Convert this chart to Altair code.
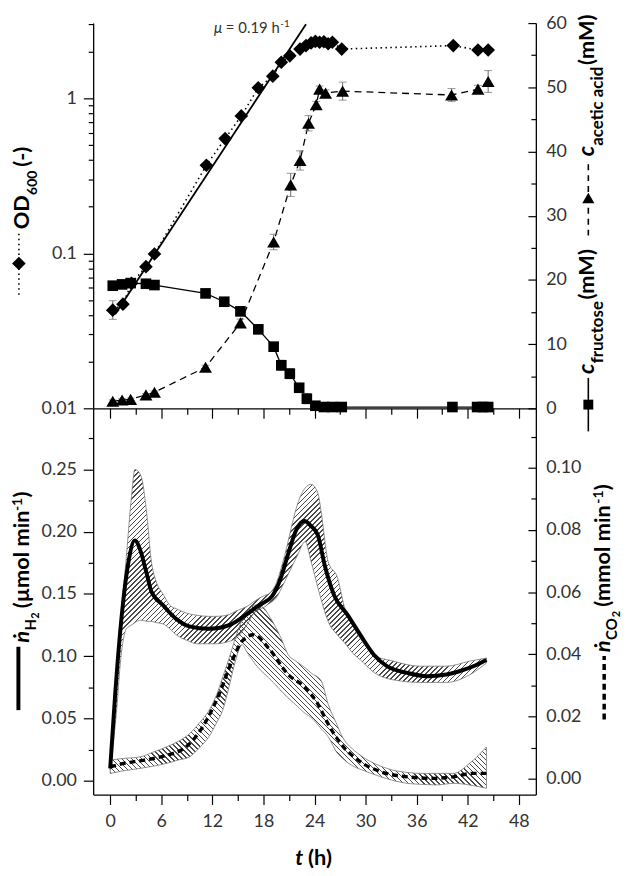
import altair as alt
import pandas as pd

# ---------------- data ----------------
od_t = [0.3, 1.5, 2.5, 4.2, 5.2, 11.3, 13.5, 15.4, 17.4, 19.1, 20.1, 21.1, 22.3, 23.0,
        23.6, 24.1, 24.6, 25.1, 25.6, 26.1, 27.2, 40.3, 43.2, 44.4]
od_v = [0.043, 0.047, 0.064, 0.082, 0.099, 0.37, 0.55, 0.77, 1.17, 1.39, 1.71, 1.88, 2.08, 2.19,
        2.28, 2.33, 2.30, 2.32, 2.25, 2.30, 2.08, 2.19, 2.05, 2.05]
od_err_t = [0.3]
od_err_lo = [0.0375]
od_err_hi = [0.0495]
fit_t = [0.58, 23.0]
fit_v = [0.0405, 3.01]

fru_t = [0.3, 1.4, 2.4, 4.2, 5.2, 11.2, 13.4, 15.3, 17.4, 19.2, 20.1, 21.1, 22.2, 23.1,
         24.1, 25.1, 26.1, 27.2, 40.2, 43.1, 43.8, 44.4]
fru_c = [19.1, 19.3, 19.5, 19.4, 19.2, 17.9, 16.6, 15.1, 12.3, 9.6, 6.7, 5.4, 3.2, 1.5,
         0.4, 0.2, 0.2, 0.2, 0.2, 0.2, 0.2, 0.2]
fru_sd = [0.3, 0.2, 0.2, 0.2, 0.2, 0.3, 0.3, 0.4, 0.5, 0.5, 0.8, 0.8, 0.6, 0.8,
          0.2, 0.1, 0.1, 0.1, 0.1, 0.1, 0.1, 0.1]
ace_t = [0.3, 1.4, 2.4, 4.2, 5.2, 11.2, 15.3, 19.2, 21.2, 22.3, 23.3, 24.2, 24.6, 25.3,
         27.3, 40.1, 43.2, 44.4]
ace_c = [1.1, 1.3, 1.4, 2.1, 2.5, 6.4, 13.3, 25.9, 34.8, 38.6, 44.4, 47.3, 49.7, 49.1,
         49.4, 48.8, 49.7, 50.9]
ace_sd = [0.2, 0.2, 0.2, 0.2, 0.2, 0.3, 0.6, 1.2, 1.8, 1.5, 1.2, 0.5, 0.5, 0.5,
          1.4, 1.0, 0.6, 1.7]

h2_t = [0, 0.58, 1.36, 2.13, 2.9, 3.49, 4.26, 4.84, 6.2, 7.75, 9.3, 11.6, 14.0, 15.9, 17.5,
        19.0, 20.0, 20.9, 21.9, 22.8, 23.6, 24.4, 25.2, 26.3, 27.9, 29.4, 31.0, 32.5, 34.9,
        37.2, 39.5, 41.5, 43.0, 44.2]
h2_v = [0.010, 0.069, 0.133, 0.175, 0.193, 0.186, 0.167, 0.152, 0.141, 0.130, 0.124, 0.122,
        0.125, 0.133, 0.141, 0.148, 0.162, 0.182, 0.202, 0.2085, 0.2045, 0.197, 0.173, 0.149,
        0.133, 0.117, 0.101, 0.092, 0.0866, 0.084, 0.0853, 0.089, 0.093, 0.097]
h2b_t = [0, 0.8, 1.2, 1.9, 2.5, 2.9, 3.6, 4.3, 4.8, 5.4, 6.2, 7.0, 7.8, 9.3, 10.1, 11.6, 12.4,
         14.0, 14.7, 16.3, 16.7, 18.2, 18.6, 19.4, 20.5, 21.7, 22.0, 22.9, 23.6, 24.4, 24.8,
         25.6, 26.7, 27.5, 28.7, 29.4, 31.0, 33.3, 36.4, 39.5, 42.2, 44.2]
h2b_hi = [0.012, 0.085, 0.125, 0.180, 0.228, 0.250, 0.245, 0.214, 0.178, 0.160, 0.150, 0.141,
          0.138, 0.134, 0.133, 0.132, 0.132, 0.1335, 0.136, 0.141, 0.143, 0.149, 0.150, 0.157,
          0.181, 0.215, 0.222, 0.235, 0.238, 0.231, 0.215, 0.176, 0.163, 0.140, 0.122, 0.114,
          0.101, 0.096, 0.092, 0.092, 0.096, 0.0986]
h2b_lo = [0.0085, 0.060, 0.095, 0.122, 0.125, 0.127, 0.129, 0.128, 0.128, 0.127, 0.126, 0.122,
          0.117, 0.112, 0.110, 0.110, 0.110, 0.112, 0.114, 0.128, 0.133, 0.140, 0.142, 0.146,
          0.160, 0.177, 0.181, 0.192, 0.176, 0.155, 0.145, 0.128, 0.117, 0.111, 0.101, 0.097,
          0.087, 0.081, 0.079, 0.079, 0.085, 0.0946]

co2_t = [0, 1.55, 3.87, 6.6, 8.9, 10.85, 12.8, 14.3, 15.5, 16.85, 18.6, 20.9, 22.9, 24.4,
         25.6, 27.1, 29.1, 31.8, 34.9, 38.0, 40.3, 42.6, 44.2]
co2_v = [0.0038, 0.0049, 0.0059, 0.0075, 0.0102, 0.0166, 0.0272, 0.0378, 0.0442, 0.0463,
         0.042, 0.0335, 0.0293, 0.024, 0.0176, 0.0112, 0.006, 0.0022, 0.0006, 0.0001, 0.0006,
         0.0017, 0.0017]
co2b_t = [0, 1.5, 3.5, 5.0, 6.6, 8.0, 9.3, 10.5, 11.6, 12.5, 13.2, 14.0, 14.7, 15.5, 16.0,
          17.0, 18.0, 18.6, 20.1, 20.9, 21.7, 22.9, 23.6, 24.8, 25.6, 26.7, 27.1, 28.7, 29.4,
          31.8, 32.5, 34.9, 36.4, 38.4, 40.3, 42.2, 44.2]
co2b_hi = [0.006, 0.0065, 0.007, 0.0085, 0.0102, 0.012, 0.0144, 0.018, 0.0219, 0.027, 0.0325,
           0.039, 0.0452, 0.051, 0.0532, 0.0558, 0.055, 0.0527, 0.045, 0.0399, 0.038, 0.0357,
           0.034, 0.0314, 0.024, 0.017, 0.0144, 0.009, 0.0075, 0.004, 0.0033, 0.002, 0.0017,
           0.0017, 0.0017, 0.0049, 0.0102]
co2b_lo = [0.0017, 0.0025, 0.0033, 0.004, 0.0049, 0.006, 0.007, 0.010, 0.0135, 0.018, 0.0219,
           0.030, 0.0378, 0.0431, 0.041, 0.037, 0.034, 0.0325, 0.0282, 0.026, 0.024, 0.021,
           0.0197, 0.016, 0.0135, 0.0081, 0.007, 0.0038, 0.003, 0.0006, 0.0, -0.0015, -0.0018,
           -0.002, -0.0015, -0.002, -0.0031]

x_ticks = list(range(0, 49, 3))
od_ticks = [round(m * 10.0 ** e, 4) for e in (-2, -1) for m in range(1, 10)] + [1, 2, 3]
conc_ticks = list(range(0, 61, 5))
h2_ticks = [round(0.025 * i, 3) for i in range(12)]
co2_ticks = [round(0.01 * i, 2) for i in range(12)]

# ---------------- layout ----------------
W = 447
H_TOP = 389
H_BOT = 390
X_DOM = [-2, 50]
OD_DOM = [0.01, 3.06]
C_DOM = [0, 60]
H2_DOM = [-0.011, 0.299]
CO2_DOM = [-0.0051, 0.1191]
FONT = "Lato"
PX_X = W / (X_DOM[1] - X_DOM[0])

one = pd.DataFrame({"k": [0]})

CW = {" ": 0.24, "(": 0.30, ")": 0.30, "-": 0.36, ".": 0.23, "O": 0.78, "D": 0.74, "H": 0.76,
      "C": 0.68, "M": 0.90, "a": 0.49, "c": 0.45, "d": 0.55, "e": 0.52, "f": 0.31, "h": 0.54,
      "i": 0.23, "l": 0.23, "m": 0.82, "n": 0.54, "o": 0.55, "r": 0.35, "s": 0.41, "t": 0.34,
      "u": 0.54, "µ": 0.56, "ṅ": 0.54}


def tw(s, size):
    return sum(CW.get(ch, 0.58) for ch in s) * size * 1.04


def x_enc(show_labels):
    return alt.X("t:Q", scale=alt.Scale(domain=X_DOM, nice=False, zero=False),
                 axis=alt.Axis(orient="bottom", values=x_ticks, title=None, grid=False,
                               labels=show_labels,
                               labelExpr="datum.value % 6 === 0 ? datum.label : ''",
                               tickSize={"condition": {"test": "datum.value % 6 === 0", "value": 10},
                                         "value": 6},
                               labelPadding=8))


def txt(x, y, s, size, weight="bold", style="normal", angle=0, color="black"):
    return alt.Chart(one).mark_text(text=s, angle=angle, align="left", baseline="alphabetic",
                                    font=FONT, fontSize=size, fontWeight=weight, fontStyle=style,
                                    color=color).encode(x=alt.value(x), y=alt.value(y))


def vtitle(items, xbase, xsym, ycenter):
    total = 0
    for it in items:
        if it[0] in ("gap", "sym"):
            total += it[1]
        else:
            total += tw(it[1], it[2])
    y = ycenter + total / 2.0
    layers = []
    for it in items:
        if it[0] == "gap":
            y -= it[1]
        elif it[0] == "sym":
            length, sw, dash, shape, ssize = it[1], it[2], it[3], it[4], it[5]
            props = dict(color="black", strokeWidth=sw)
            if dash:
                props["strokeDash"] = dash
            layers.append(alt.Chart(one).mark_rule(**props).encode(
                x=alt.value(xsym), y=alt.value(y), y2=alt.value(y - length)))
            if shape:
                layers.append(alt.Chart(one).mark_point(shape=shape, filled=True, size=ssize,
                                                        color="black", opacity=1).encode(
                    x=alt.value(xsym), y=alt.value(y - length / 2.0)))
            y -= length
        else:
            _, s, size, style, dx = it
            layers.append(txt(xbase + dx, y, s, size, style=style, angle=270))
            y -= tw(s, size)
    return layers


def hatch(W_px, H_px, backslash, spacing=3.6, frac=0.3, color="#4a4a4a"):
    r = H_px / W_px
    s = (1 + r) / (1 + r * r)
    dt = spacing * 2 ** 0.5 / (W_px + H_px)
    stops = []
    k = 0
    clear = "rgba(255,255,255,0)"
    while k * dt < 1:
        a = k * dt
        b = min(1.0, a + frac * dt)
        c = min(1.0, (k + 1) * dt)
        stops += [{"offset": round(a, 6), "color": color}, {"offset": round(b, 6), "color": color},
                  {"offset": round(b, 6), "color": clear}, {"offset": round(c, 6), "color": clear}]
        k += 1
    if backslash:
        g = {"gradient": "linear", "x1": 0, "y1": 1, "x2": s, "y2": 1 - s * r, "stops": stops}
    else:
        g = {"gradient": "linear", "x1": 0, "y1": 0, "x2": s, "y2": s * r, "stops": stops}
    return g


# ---------------- top panel ----------------
X_T = x_enc(False)
od_sc = alt.Scale(type="log", domain=OD_DOM, nice=False)
c_sc = alt.Scale(domain=C_DOM, nice=False, zero=False)
decade = "datum.value === 0.01 || datum.value === 0.1 || datum.value === 1"
od_axis = alt.Axis(orient="left", values=od_ticks, title=None, grid=False, format="~g",
                   labelExpr="(" + decade + ") ? datum.label : ''",
                   tickSize={"condition": {"test": decade, "value": 10}, "value": 5},
                   labelPadding=7)
conc_axis_lab = alt.Axis(orient="right", values=list(range(0, 61, 10)), title=None, grid=False,
                         ticks=False, labelPadding=10)
conc_axis_ticks = alt.Axis(orient="left", offset=-W, values=conc_ticks, title=None, grid=False,
                           labels=False, domain=False,
                           tickSize={"condition": {"test": "datum.value % 10 === 0", "value": 8},
                                     "value": 5})

od_df = pd.DataFrame({"t": od_t, "v": od_v})
fit_df = pd.DataFrame({"t": fit_t, "v": fit_v})
od_err = pd.DataFrame({"t": od_err_t, "lo": od_err_lo, "hi": od_err_hi})
fru_df = pd.DataFrame({"t": fru_t, "c": fru_c,
                       "lo": [c - e for c, e in zip(fru_c, fru_sd)],
                       "hi": [c + e for c, e in zip(fru_c, fru_sd)]})
ace_df = pd.DataFrame({"t": ace_t, "c": ace_c,
                       "lo": [c - e for c, e in zip(ace_c, ace_sd)],
                       "hi": [c + e for c, e in zip(ace_c, ace_sd)]})


def errbars(df, sc, X):
    rule = alt.Chart(df).mark_rule(color="#777", strokeWidth=1.1).encode(
        x=X, y=alt.Y("lo:Q", scale=sc, axis=None), y2="hi:Q")
    lo = alt.Chart(df).mark_tick(orient="horizontal", color="#777", size=8, thickness=1.1).encode(
        x=X, y=alt.Y("lo:Q", scale=sc, axis=None))
    hi = alt.Chart(df).mark_tick(orient="horizontal", color="#777", size=8, thickness=1.1).encode(
        x=X, y=alt.Y("hi:Q", scale=sc, axis=None))
    return [rule, lo, hi]


top_layers = [
    alt.Chart(od_df).mark_line(color="black", strokeWidth=1.6, strokeDash=[1.5, 3.5]).encode(
        x=X_T, y=alt.Y("v:Q", scale=od_sc, axis=od_axis)),
    alt.Chart(fit_df).mark_line(color="black", strokeWidth=1.8).encode(
        x=X_T, y=alt.Y("v:Q", scale=od_sc, axis=None)),
    alt.Chart(fru_df).mark_line(color="black", strokeWidth=1.3).encode(
        x=X_T, y=alt.Y("c:Q", scale=c_sc, axis=conc_axis_lab)),
    alt.Chart(ace_df).mark_line(color="black", strokeWidth=1.3, strokeDash=[7, 5]).encode(
        x=X_T, y=alt.Y("c:Q", scale=c_sc, axis=conc_axis_ticks)),
]
top_layers += errbars(od_err, od_sc, X_T)
top_layers += errbars(fru_df, c_sc, X_T)
top_layers += errbars(ace_df, c_sc, X_T)
top_layers += [
    alt.Chart(fru_df).mark_point(shape="square", filled=True, size=115, color="black",
                                 opacity=1).encode(x=X_T, y=alt.Y("c:Q", scale=c_sc, axis=None)),
    alt.Chart(ace_df).mark_point(shape="triangle-up", filled=True, size=170, color="black",
                                 opacity=1).encode(x=X_T, y=alt.Y("c:Q", scale=c_sc, axis=None)),
    alt.Chart(od_df).mark_point(shape="diamond", filled=True, size=190, color="black",
                                opacity=1).encode(x=X_T, y=alt.Y("v:Q", scale=od_sc, axis=None)),
]
top_layers += [
    txt(122, 10, "μ", 15, weight="normal", style="italic", color="#333"),
    txt(134, 10, "= 0.19 h", 15, weight="normal", color="#333"),
    txt(189, 4, "-1", 10, weight="normal", color="#333"),
]
top_layers += vtitle([
    ("sym", 63, 1.6, [1.5, 3.5], "diamond", 190),
    ("gap", 3),
    ("txt", "OD", 22, "normal", 0),
    ("txt", "600", 14, "normal", 8),
    ("gap", 3),
    ("txt", " (-)", 22, "normal", 0),
], xbase=-65, xsym=-75, ycenter=196)
top_layers += vtitle([
    ("sym", 54, 1.6, None, "square", 100),
    ("gap", 4),
    ("txt", "c", 23, "italic", 0),
    ("txt", "fructose", 17, "normal", 9),
    ("gap", 3),
    ("txt", " (mM)", 22, "normal", 0),
    ("gap", 6),
    ("sym", 76, 1.6, [6, 5], "triangle-up", 150),
    ("gap", 4),
    ("txt", "c", 23, "italic", 0),
    ("txt", "acetic acid", 17, "normal", 9),
    ("gap", 3),
    ("txt", " (mM)", 22, "normal", 0),
], xbase=506, xsym=500, ycenter=198)

top = alt.layer(*top_layers).resolve_scale(y="independent").properties(width=W, height=H_TOP)

# ---------------- bottom panel ----------------
X_B = x_enc(True)
h2_sc = alt.Scale(domain=H2_DOM, nice=False, zero=False)
co2_sc = alt.Scale(domain=CO2_DOM, nice=False, zero=False)
h2_test = "abs(datum.value*20 - round(datum.value*20)) < 1e-6"
co2_test = "abs(datum.value*50 - round(datum.value*50)) < 1e-6"
h2_axis = alt.Axis(orient="left", values=h2_ticks, title=None, grid=False, format=".2f",
                   labelExpr="(" + h2_test + ") ? datum.label : ''",
                   tickSize={"condition": {"test": h2_test, "value": 10}, "value": 5},
                   labelPadding=7)
co2_axis_lab = alt.Axis(orient="right", values=[0, 0.02, 0.04, 0.06, 0.08, 0.1], title=None,
                        grid=False, format=".2f", ticks=False, labelPadding=10)
co2_axis_ticks = alt.Axis(orient="left", offset=-W, values=co2_ticks, title=None, grid=False,
                          labels=False, domain=False,
                          tickSize={"condition": {"test": co2_test, "value": 8}, "value": 5})

h2_df = pd.DataFrame({"t": h2_t, "v": h2_v})
h2b_df = pd.DataFrame({"t": h2b_t, "lo": h2b_lo, "hi": h2b_hi})
co2_df = pd.DataFrame({"t": co2_t, "v": co2_v})
co2b_df = pd.DataFrame({"t": co2b_t, "lo": co2b_lo, "hi": co2b_hi})

py_h2 = H_BOT / (H2_DOM[1] - H2_DOM[0])
py_co2 = H_BOT / (CO2_DOM[1] - CO2_DOM[0])
h2_fill = hatch((max(h2b_t) - min(h2b_t)) * PX_X, (max(h2b_hi) - min(h2b_lo)) * py_h2, False)
co2_fill = hatch((max(co2b_t) - min(co2b_t)) * PX_X, (max(co2b_hi) - min(co2b_lo)) * py_co2, True)

bot_layers = [
    alt.Chart(h2b_df).mark_area(fill=h2_fill, stroke="#777", strokeWidth=0.8,
                                interpolate="monotone").encode(
        x=X_B, y=alt.Y("lo:Q", scale=h2_sc, axis=h2_axis), y2="hi:Q"),
    alt.Chart(co2b_df).mark_area(fill=co2_fill, stroke="#777", strokeWidth=0.8,
                                 interpolate="monotone").encode(
        x=X_B, y=alt.Y("lo:Q", scale=co2_sc, axis=co2_axis_lab), y2="hi:Q"),
    alt.Chart(h2_df).mark_line(color="black", strokeWidth=4, interpolate="monotone").encode(
        x=X_B, y=alt.Y("v:Q", scale=h2_sc, axis=None)),
    alt.Chart(co2_df).mark_line(color="black", strokeWidth=3.4, strokeDash=[6, 4],
                                interpolate="monotone").encode(
        x=X_B, y=alt.Y("v:Q", scale=co2_sc, axis=co2_axis_ticks)),
]
bot_layers += vtitle([
    ("sym", 64, 4, None, None, 0),
    ("gap", 4),
    ("txt", "ṅ", 22, "italic", 0),
    ("txt", "H", 15, "normal", 7),
    ("txt", "2", 11, "normal", 10),
    ("gap", 4),
    ("txt", "(µmol min", 22, "normal", 0),
    ("txt", "-1", 14, "normal", -7),
    ("txt", ")", 22, "normal", 0),
], xbase=-65, xsym=-75.5, ycenter=194)
bot_layers += vtitle([
    ("sym", 64, 3.5, [6, 4], None, 0),
    ("gap", 4),
    ("txt", "ṅ", 22, "italic", 0),
    ("txt", "CO", 15, "normal", 7),
    ("txt", "2", 11, "normal", 10),
    ("gap", 4),
    ("txt", "(mmol min", 22, "normal", 0),
    ("txt", "-1", 14, "normal", -7),
    ("txt", ")", 22, "normal", 0),
], xbase=522, xsym=516, ycenter=195)
bot_layers += [
    txt(204, 461, "t", 22, style="italic"),
    txt(217, 461, "(h)", 22),
]

bottom = alt.layer(*bot_layers).resolve_scale(y="independent").properties(width=W, height=H_BOT)

chart = alt.vconcat(top, bottom, spacing=0, bounds="flush").configure_view(
    strokeWidth=0
).configure_axis(
    domainColor="black", domainWidth=1.3, tickColor="black", tickWidth=1.2,
    labelFont=FONT, labelFontSize=18, labelColor="#333", grid=False
).properties(padding={"left": 2, "top": 2, "right": 0, "bottom": 0})

chart.save("out.html", embed_options={"renderer": "svg", "actions": False})
